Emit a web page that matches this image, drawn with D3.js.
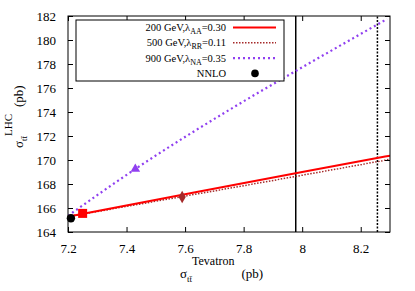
<!DOCTYPE html>
<html>
<head>
<meta charset="utf-8">
<script src="https://cdn.jsdelivr.net/npm/d3@7"></script>
<style>
  body { margin: 0; background: #fff; }
  svg text { font-family: "Liberation Serif", "Times New Roman", "DejaVu Serif", serif !important; }
</style>
</head>
<body>
<div id="graph-container"></div>
<script>
const w = 415;
const h = 291;

// sigma_tt at Tevatron (x) vs LHC (y), in pb
const redLine = [[7.2, 165.28], [7.6, 167.15], [8.0, 169.0], [8.3, 170.36]];
const brownLine = [[7.2, 165.28], [7.59, 166.95], [8.0, 168.73], [8.3, 170.06]];
const purpleLine = [[7.2, 165.35], [7.43, 169.25], [7.78, 174.6], [7.97, 177.3], [8.29, 181.75]];

const nnloPoint = [7.21, 165.15];
const redPoint = [7.25, 165.55];
const brownPoint = [7.59, 166.92];
const purplePoint = [7.43, 169.25];

// vertical reference lines (Tevatron values)
const solidV = 7.978;
const dottedV = 8.257;

const xTicks = [7.2, 7.4, 7.6, 7.8, 8.0, 8.2];
const xTickLabels = ["7.2", "7.4", "7.6", "7.8", "8", "8.2"];
const yTicks = [164, 166, 168, 170, 172, 174, 176, 178, 180, 182];

const legendEntries = [
  { mass: "200 GeV,", sub: "AA", val: "=0.30", key: "red" },
  { mass: "500 GeV,", sub: "RR", val: "=0.11", key: "brown" },
  { mass: "900 GeV,", sub: "NA", val: "=0.35", key: "purple" },
  { mass: "NNLO", key: "nnlo" },
];

const styles = {
  red: { color: "#ff0000", width: 2, dash: null },
  brown: { color: "#a52a2a", width: 1.5, dash: "1.5,1.5" },
  purple: { color: "#9040f0", width: 2.2, dash: "2,3" },
};

const svg = d3.select("#graph-container").append("svg").attr("width", w).attr("height", h);

const xScale = d3.scaleLinear().domain([7.2, 8.3]).range([68, 390]);
const yScale = d3.scaleLinear().domain([164, 182]).range([232, 16]);

const line = d3.line().x((d) => xScale(d[0])).y((d) => yScale(d[1])).curve(d3.curveMonotoneX);

const plot = svg.append("g");
plot.append("clipPath").attr("id", "clip").append("rect")
  .attr("x", 68).attr("y", 16).attr("width", 322).attr("height", 216);

// vertical lines
plot.append("line")
  .attr("x1", xScale(solidV)).attr("x2", xScale(solidV))
  .attr("y1", yScale(164)).attr("y2", yScale(182))
  .attr("stroke", "#000").attr("stroke-width", 1.5);
plot.append("line")
  .attr("x1", xScale(dottedV)).attr("x2", xScale(dottedV))
  .attr("y1", yScale(164)).attr("y2", yScale(182))
  .attr("stroke", "#000").attr("stroke-width", 1.5).attr("stroke-dasharray", "2,1.5");

// curves
const series = [
  ["purple", purpleLine],
  ["brown", brownLine],
  ["red", redLine],
];
series.forEach(([k, data]) => {
  plot.append("path")
    .attr("d", line(data))
    .attr("clip-path", "url(#clip)")
    .attr("fill", "none")
    .attr("stroke", styles[k].color)
    .attr("stroke-width", styles[k].width)
    .attr("stroke-dasharray", styles[k].dash);
});

// points
plot.append("path")
  .attr("d", d3.symbol(d3.symbolTriangle, 40)())
  .attr("transform", `translate(${xScale(purplePoint[0])},${yScale(purplePoint[1])})`)
  .attr("fill", styles.purple.color);
plot.append("path")
  .attr("d", d3.symbol(d3.symbolDiamond, 45)())
  .attr("transform", `translate(${xScale(brownPoint[0])},${yScale(brownPoint[1])})`)
  .attr("fill", styles.brown.color);
plot.append("rect")
  .attr("x", xScale(redPoint[0]) - 4.5).attr("y", yScale(redPoint[1]) - 4.5)
  .attr("width", 9).attr("height", 9)
  .attr("fill", "#ff0000");
plot.append("circle")
  .attr("cx", xScale(nnloPoint[0])).attr("cy", yScale(nnloPoint[1]))
  .attr("r", 4.2).attr("fill", "#000");

// Axes (ticks inward on all sides)
const fmtX = (d) => xTickLabels[xTicks.indexOf(d)];
svg.append("g")
  .attr("transform", `translate(0, ${yScale(164)})`)
  .call(d3.axisBottom(xScale).tickValues(xTicks).tickFormat(fmtX).tickSize(-5).tickPadding(12))
  .call((g) => g.select(".domain").remove());
svg.append("g")
  .attr("transform", `translate(0, ${yScale(182)})`)
  .call(d3.axisTop(xScale).tickValues(xTicks).tickFormat("").tickSize(-5))
  .call((g) => g.select(".domain").remove());
svg.append("g")
  .attr("transform", `translate(${xScale(7.2)}, 0)`)
  .call(d3.axisLeft(yScale).tickValues(yTicks).tickSize(-5).tickPadding(12))
  .call((g) => g.select(".domain").remove());
svg.append("g")
  .attr("transform", `translate(${xScale(8.3)}, 0)`)
  .call(d3.axisRight(yScale).tickValues(yTicks).tickFormat("").tickSize(-5))
  .call((g) => g.select(".domain").remove());

svg.selectAll(".tick line").attr("stroke", "#000");
svg.selectAll(".tick text")
  .attr("font-size", 13)
  .attr("fill", "#000");

svg.append("rect")
  .attr("x", 68).attr("y", 16).attr("width", 322).attr("height", 216)
  .attr("fill", "none").attr("stroke", "#000").attr("stroke-width", 1);

// legend
const legend = svg.append("g");
legend.append("rect")
  .attr("x", 76).attr("y", 20).attr("width", 208).attr("height", 61)
  .attr("fill", "#fff").attr("stroke", "#000").attr("stroke-width", 1);

legendEntries.forEach((e, i) => {
  const cy = 27.5 + i * 15.3;
  const t = legend.append("text")
    .attr("x", 226).attr("y", cy + 3.5)
    .attr("text-anchor", "end")
    .attr("font-size", 10.5);
  t.append("tspan").text(e.mass);
  if (e.sub) {
    t.append("tspan").text("λ");
    t.append("tspan").attr("dy", 3).attr("font-size", 8).text(e.sub);
    t.append("tspan").attr("dy", -3).text(e.val);
  }
  if (e.key === "nnlo") {
    legend.append("circle").attr("cx", 255).attr("cy", cy).attr("r", 3.8).attr("fill", "#000");
  } else {
    legend.append("line")
      .attr("x1", 233).attr("x2", 276).attr("y1", cy).attr("y2", cy)
      .attr("stroke", styles[e.key].color)
      .attr("stroke-width", styles[e.key].width)
      .attr("stroke-dasharray", styles[e.key].dash);
  }
});

// axis titles
const xt = svg.append("text").attr("x", 180).attr("y", 278).attr("font-size", 13);
xt.append("tspan").text("σ");
xt.append("tspan").attr("dy", 4).attr("font-size", 9).text("tt̄");
xt.append("tspan").attr("dy", -17).attr("font-size", 12).text("Tevatron");
xt.append("tspan").attr("dy", 13).attr("dx", 7).text("(pb)");

const yt = svg.append("text")
  .attr("transform", "translate(23, 148) rotate(-90)")
  .attr("font-size", 13);
yt.append("tspan").text("σ");
yt.append("tspan").attr("dy", 4).attr("font-size", 9).text("tt̄");
yt.append("tspan").attr("dy", -15).attr("font-size", 11).text("LHC");
yt.append("tspan").attr("dy", 11).attr("dx", 7).text("(pb)");
</script>
</body>
</html>
